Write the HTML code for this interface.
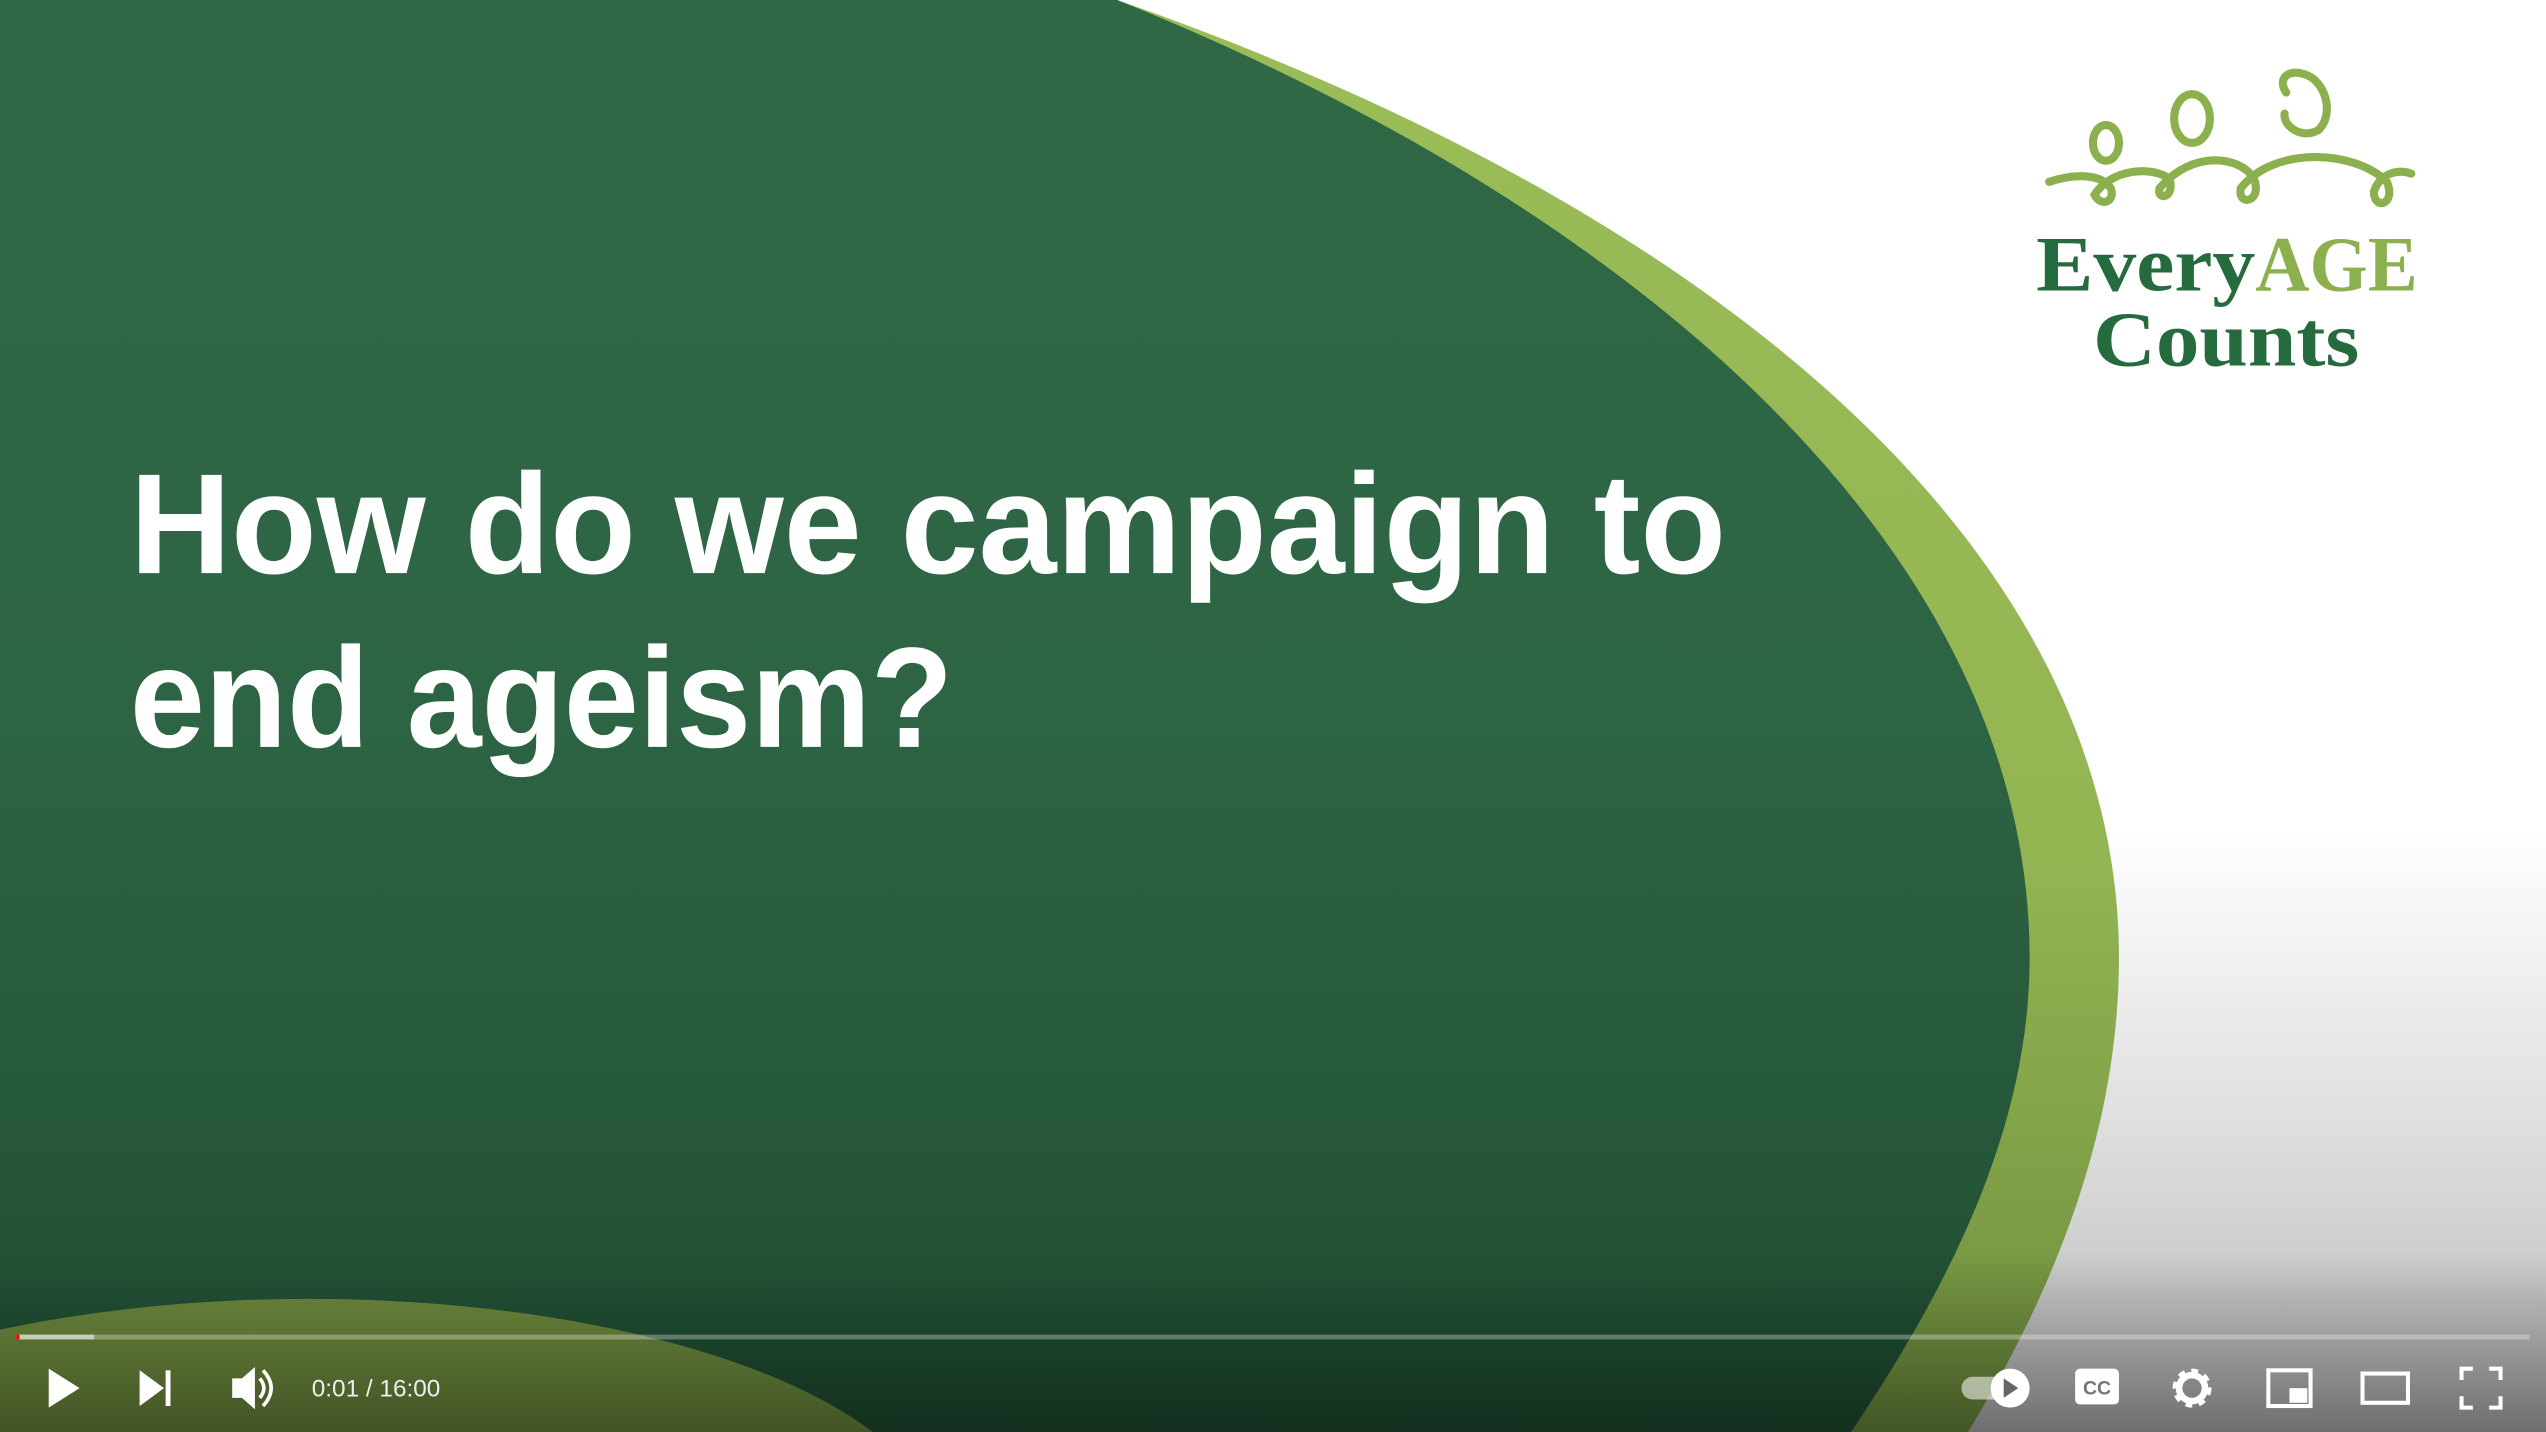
<!DOCTYPE html>
<html><head><meta charset="utf-8"><style>
html,body{margin:0;padding:0;background:#fff;width:2546px;height:1432px;overflow:hidden;}
svg{display:block;position:absolute;left:0;top:0;}
</style></head><body>
<svg width="2546" height="1432" viewBox="0 0 1568 882" preserveAspectRatio="none" xmlns="http://www.w3.org/2000/svg">
<defs>
<linearGradient id="bg" x1="0" y1="0" x2="0" y2="1">
<stop offset="0" stop-color="#ffffff"/><stop offset="0.58" stop-color="#ffffff"/><stop offset="0.8" stop-color="#dcdcdc"/><stop offset="1" stop-color="#b8b8b8"/></linearGradient>
<linearGradient id="dg" x1="0" y1="0" x2="0" y2="1">
<stop offset="0" stop-color="#306845"/><stop offset="0.5" stop-color="#2d6443"/><stop offset="1" stop-color="#204e33"/></linearGradient>
<linearGradient id="lg" x1="0" y1="0" x2="0" y2="1">
<stop offset="0" stop-color="#9abd58"/><stop offset="0.6" stop-color="#93b552"/><stop offset="1" stop-color="#6f8f3e"/></linearGradient>
<linearGradient id="shade" x1="0" y1="0" x2="0" y2="1">
<stop offset="0" stop-color="#000" stop-opacity="0"/><stop offset="1" stop-color="#000" stop-opacity="0.4"/></linearGradient>
</defs>
<rect width="1568" height="882" fill="url(#bg)"/>
<path d="M0,0 L688,0 C1060,130 1305,340 1305,590 C1305,700 1262,800 1212,882 L0,882 Z" fill="url(#lg)"/>
<path d="M0,0 L688,0 C1000,125 1250,335 1250,590 C1250,700 1195,800 1140,882 L0,882 Z" fill="url(#dg)"/>
<ellipse cx="190" cy="950" rx="390" ry="150" fill="#6f8c3e"/>
<text x="80" y="353" font-family="Liberation Sans, sans-serif" font-weight="bold" font-size="88" fill="#ffffff" textLength="983" lengthAdjust="spacingAndGlyphs">How do we campaign to</text>
<text x="80" y="460" font-family="Liberation Sans, sans-serif" font-weight="bold" font-size="88" fill="#ffffff" textLength="507" lengthAdjust="spacingAndGlyphs">end ageism?</text>
<g fill="none" stroke="#8db04f" stroke-width="5" stroke-linecap="round">
<ellipse cx="1297" cy="88" rx="8" ry="11"/>
<ellipse cx="1350" cy="73" rx="11" ry="15"/>
<path d="M1408,57 C1402,48 1410,42 1420,46 C1432,50 1438,70 1428,80 C1418,86 1406,78 1407,70"/>
<path d="M1262,112 C1280,106 1295,108 1300,116 C1303,124 1294,128 1290,120 C1300,104 1325,102 1336,110 M1336,110 C1340,122 1328,124 1330,116 C1350,92 1380,96 1388,110 C1394,124 1378,128 1380,116 C1400,90 1450,92 1470,112 C1476,126 1462,130 1462,118 C1466,106 1478,104 1485,107"/>
</g>
<text x="1254" y="179" font-family="Liberation Serif, serif" font-weight="bold" font-size="48" fill="#256b3d" textLength="135" lengthAdjust="spacingAndGlyphs">Every</text>
<text x="1389" y="179" font-family="Liberation Serif, serif" font-weight="bold" font-size="48" fill="#8db04f" textLength="100" lengthAdjust="spacingAndGlyphs">AGE</text>
<text x="1289" y="225" font-family="Liberation Serif, serif" font-weight="bold" font-size="48" fill="#256b3d" textLength="164" lengthAdjust="spacingAndGlyphs">Counts</text>
<rect x="0" y="770" width="1568" height="112" fill="url(#shade)"/>
<rect x="10" y="822" width="1548" height="3" fill="#ffffff" fill-opacity="0.3"/>
<rect x="10" y="822" width="48" height="3" fill="#ffffff" fill-opacity="0.5"/>
<rect x="10" y="822" width="2" height="3" fill="#ff0000"/>
<path d="M30,843 L49,855 L30,867 Z" fill="#fff"/>
<g fill="#fff"><path d="M86,844 L101,855 L86,866 Z"/><rect x="102" y="844" width="3" height="22"/></g>
<g><path d="M143,849 L149,849 L157,842 L157,868 L149,861 L143,861 Z" fill="#fff"/><path d="M160,849 Q165,855 160,861 M162,844 Q172,855 162,866" stroke="#fff" stroke-width="2.2" fill="none"/></g>
<text x="192" y="860" font-family="Liberation Sans, sans-serif" font-size="15" fill="#eeeeee">0:01 / 16:00</text>
<g><rect x="1208" y="848" width="34" height="14" rx="7" fill="#fff" fill-opacity="0.55"/><circle cx="1238" cy="855" r="12" fill="#fff"/><path d="M1234,849 L1243,855 L1234,861 Z" fill="#666"/></g>
<g><rect x="1278" y="843" width="27" height="22" rx="3" fill="#fff"/><text x="1291.5" y="859" text-anchor="middle" font-family="Liberation Sans, sans-serif" font-weight="bold" font-size="12" fill="#777">CC</text></g>
<g><circle cx="1350" cy="855" r="9" fill="none" stroke="#fff" stroke-width="6" stroke-dasharray="3.5 3.5"/><circle cx="1350" cy="855" r="8" fill="none" stroke="#fff" stroke-width="4"/></g>
<g><rect x="1397" y="844" width="26" height="22" fill="none" stroke="#fff" stroke-width="2.5"/><rect x="1410" y="855" width="11" height="9" fill="#fff"/></g>
<rect x="1455" y="846" width="28" height="18" fill="none" stroke="#fff" stroke-width="2.5"/>
<path d="M1516,850 V843 H1523 M1533,843 H1540 V850 M1540,860 V867 H1533 M1523,867 H1516 V860" fill="none" stroke="#fff" stroke-width="2.5"/>
</svg>
</body></html>
